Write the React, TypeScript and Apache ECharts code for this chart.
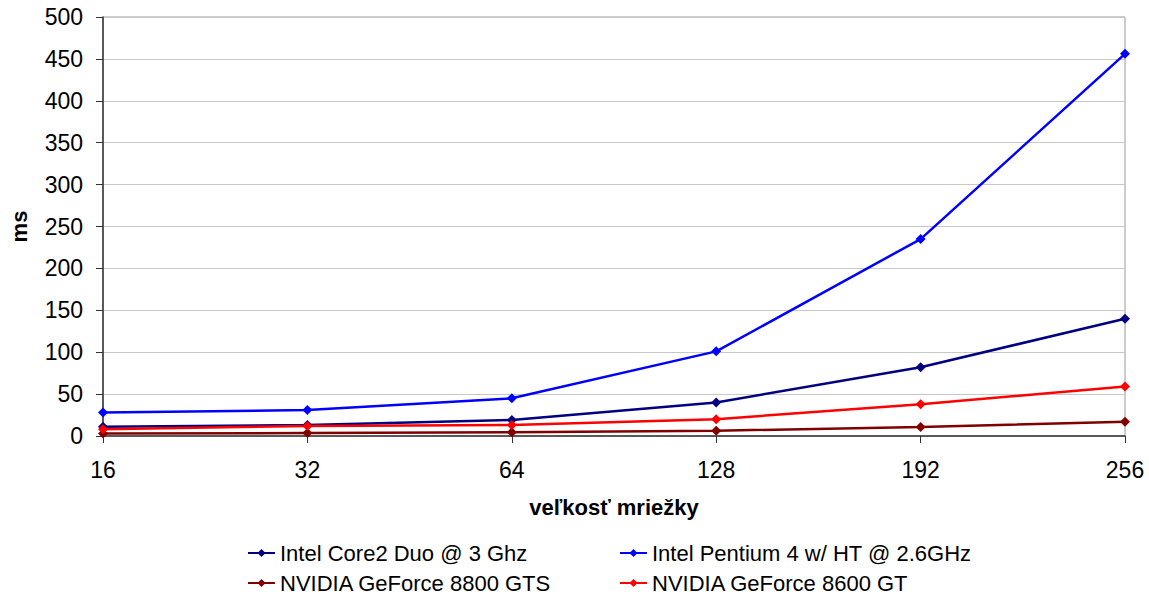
import React, { useEffect, useRef } from "react";
import * as echarts from "echarts";

const categories = ["16", "32", "64", "128", "192", "256"];
const core2 = [11, 13, 19, 40, 82, 140];
const pentium = [28, 31, 45, 101, 235, 456];
const gts8800 = [3, 3.5, 4.4, 6.3, 10.7, 17];
const gt8600 = [8, 12, 13, 20, 38, 59];

const FONT = "'Liberation Sans', Arial, sans-serif";

export default function App() {
  const ref = useRef<HTMLDivElement>(null);
  useEffect(() => {
    if (!ref.current) return;
    const chart = echarts.init(ref.current, undefined, { renderer: "svg" });
    const mk = (name: string, data: number[], color: string) => ({
      name,
      type: "line",
      data,
      symbol: "diamond",
      symbolSize: 10,
      lineStyle: { color, width: 2.5 },
      itemStyle: { color },
      color,
    });
    const legendText = { fontFamily: FONT, fontSize: 22, lineHeight: 24, color: "#000" };
    const legendCommon = {
      orient: "vertical",
      top: 541,
      height: 56,
      padding: 0,
      itemGap: 6,
      itemWidth: 27,
      itemHeight: 10,
      textStyle: legendText,
    };
    chart.setOption({
      animation: false,
      textStyle: { fontFamily: FONT },
      grid: {
        left: 100,
        right: 24,
        top: 17,
        bottom: 161,
        show: true,
        borderColor: "#999",
        borderWidth: 1,
      },
      legend: [
        {
          ...legendCommon,
          data: ["Intel Core2 Duo @ 3 Ghz", "NVIDIA GeForce 8800 GTS"],
          left: 247,
        },
        {
          ...legendCommon,
          data: ["Intel Pentium 4 w/ HT @ 2.6GHz", "NVIDIA GeForce 8600 GT"],
          left: 619,
        },
      ],
      xAxis: {
        type: "category",
        data: categories,
        boundaryGap: false,
        name: "veľkosť mriežky",
        nameLocation: "middle",
        nameGap: 60,
        nameTextStyle: { fontFamily: FONT, fontSize: 22, fontWeight: "bold", color: "#000" },
        axisLine: { lineStyle: { color: "#333", width: 1.5 } },
        axisTick: { show: true, alignWithLabel: true, length: 7, lineStyle: { color: "#333" } },
        axisLabel: { fontFamily: FONT, fontSize: 23, color: "#000", margin: 22 },
        splitLine: { show: false },
      },
      yAxis: {
        type: "value",
        min: 0,
        max: 500,
        interval: 50,
        name: "ms",
        nameLocation: "middle",
        nameGap: 73,
        nameRotate: 90,
        nameTextStyle: { fontFamily: FONT, fontSize: 22, fontWeight: "bold", color: "#000" },
        axisLine: { show: true, lineStyle: { color: "#333", width: 1.5 } },
        axisTick: { show: true, length: 7, lineStyle: { color: "#333" } },
        axisLabel: { fontFamily: FONT, fontSize: 23, color: "#000", margin: 20 },
        splitLine: { show: true, lineStyle: { color: "#c8c8c8", width: 1 } },
      },
      series: [
        mk("Intel Core2 Duo @ 3 Ghz", core2, "#000080"),
        mk("Intel Pentium 4 w/ HT @ 2.6GHz", pentium, "#0000ff"),
        mk("NVIDIA GeForce 8800 GTS", gts8800, "#800000"),
        mk("NVIDIA GeForce 8600 GT", gt8600, "#ff0000"),
      ],
    });
    return () => chart.dispose();
  }, []);
  return <div ref={ref} style={{ width: 1149, height: 597, position: "absolute", left: 0, top: 0 }} />;
}
